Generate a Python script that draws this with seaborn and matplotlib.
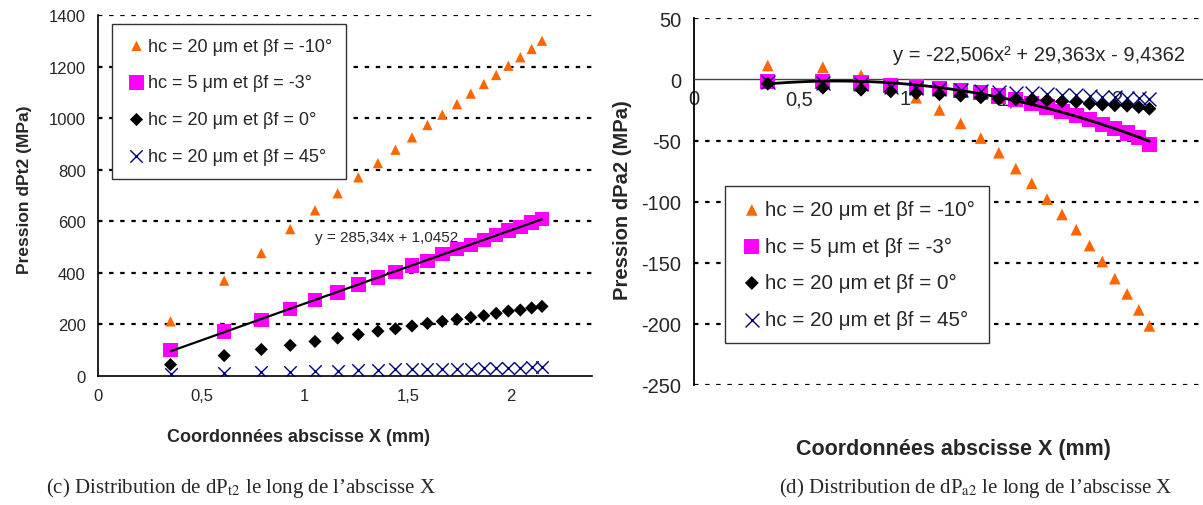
import numpy as np
import pandas as pd
import matplotlib
matplotlib.use('Agg')
import matplotlib.pyplot as plt
import seaborn as sns

# abscisses X (mm)
x_mm = [0.35, 0.61, 0.79, 0.93, 1.05, 1.16, 1.26, 1.355, 1.44, 1.52,
        1.595, 1.667, 1.738, 1.805, 1.868, 1.928, 1.987, 2.045, 2.10, 2.15]

series_labels = ['hc = 20 μm et βf = -10°', 'hc = 5 μm et βf = -3°',
                 'hc = 20 μm et βf = 0°', 'hc = 20 μm et βf = 45°']

# (c) dPt2
dpt2_m10 = [211, 369, 476, 569, 642, 708, 770, 825, 877, 925,
            973, 1013, 1054, 1095, 1132, 1167, 1203, 1236, 1268, 1300]
dpt2_m3 = [100, 171, 216, 259, 294, 323, 353, 382, 402, 427,
           446, 472, 492, 508, 527, 546, 563, 578, 595, 608]
dpt2_0 = [43, 78, 102, 118, 133, 146, 160, 173, 182, 193,
          203, 211, 219, 226, 233, 242, 251, 255, 263, 269]
dpt2_45 = [6, 10, 13, 16, 17, 19, 22, 23, 25, 25,
           26, 27, 28, 28, 30, 30, 31, 31, 32, 32]

# (d) dPa2
dpa2_m10 = [11.4, 10.0, 3.3, -3.0, -15.0, -25.0, -36.0, -48.0, -60.0, -73.0,
            -85.0, -98.0, -110.5, -123.0, -136.0, -149.0, -163.0, -175.5, -188.6, -201.7]
dpa2_m3 = [-1.6, -1.6, -3.0, -4.9, -6.3, -7.6, -9.0, -10.9, -13.6, -16.6,
           -19.9, -22.6, -26.1, -29.4, -32.9, -36.7, -40.3, -43.8, -47.6, -53.0]
dpa2_0 = [-3.5, -6.8, -8.4, -9.8, -11.2, -12.2, -13.3, -14.7, -16.1, -16.3,
          -16.6, -17.1, -18.0, -18.5, -19.9, -20.7, -21.2, -21.5, -22.6, -24.0]
dpa2_45 = [-2, -3, -4, -6, -7, -8, -8.5, -9.5, -10.5, -11,
           -11.5, -12, -12.5, -13, -13.5, -14, -14.5, -15, -15.5, -16]

x_ticks = [0, 0.5, 1, 1.5, 2]
x_tick_labels = ['0', '0,5', '1', '1,5', '2']
yc_ticks = [0, 200, 400, 600, 800, 1000, 1200, 1400]
yd_ticks = [50, 0, -50, -100, -150, -200, -250]

colors = ['#FF6600', '#FF00FF', 'black', '#000080']
markers = ['^', 's', 'D', 'x']

sns.set_style('white')
plt.rcParams['font.family'] = ['Liberation Sans', 'DejaVu Sans']
plt.rcParams['mathtext.fontset'] = 'stix'
plt.rcParams['axes.unicode_minus'] = False

fig = plt.figure(figsize=(12.03, 5.06), dpi=100)
ax1 = fig.add_axes([0.0817, 0.2555, 0.4100, 0.7129])
ax2 = fig.add_axes([0.5765, 0.2372, 0.4230, 0.7247])


def draw_points(ax, data, sizes):
    for vals, lab, col, mk, s in zip(data, series_labels, colors, markers, sizes):
        if mk == 'x':
            sns.scatterplot(x=x_mm, y=vals, marker=mk, s=s, color=col,
                            linewidth=1.0, ax=ax, label=lab, zorder=4)
        else:
            sns.scatterplot(x=x_mm, y=vals, marker=mk, s=s, color=col,
                            edgecolor='none', ax=ax, label=lab,
                            zorder=5 if mk == 'D' else 3)


def dotted_grid(ax, levels):
    for v in levels:
        ax.axhline(v, color='black', lw=1.6, ls=(0, (2, 3)), zorder=1)


# ---- (c) ----
ax = ax1
dotted_grid(ax, [200, 400, 600, 800, 1000, 1200, 1400])
draw_points(ax, [dpt2_m10, dpt2_m3, dpt2_0, dpt2_45], [55, 110, 45, 80])
sns.regplot(x=x_mm, y=dpt2_m3, scatter=False, ci=None, truncate=True,
            color='black', line_kws={'lw': 1.6, 'zorder': 4}, ax=ax)
ax.set_xlim(0, 2.39)
ax.set_ylim(0, 1400)
ax.set_xticks(x_ticks)
ax.set_xticklabels(x_tick_labels)
ax.set_yticks(yc_ticks)
ax.tick_params(axis='both', direction='out', length=4, width=1,
               labelsize=12, color='black', pad=5)
for sp in ['top', 'right']:
    ax.spines[sp].set_visible(False)
for sp in ['left', 'bottom']:
    ax.spines[sp].set_color('black')
    ax.spines[sp].set_linewidth(1.2)
ax.text(1.05, 538, 'y = 285,34x + 1,0452', fontsize=11, va='center')
ax.set_xlabel('Coordonnées abscisse X (mm)', fontsize=13, fontweight='bold')
ax.set_ylabel('Pression dPt2 (MPa)', fontsize=12.5, fontweight='bold')
ax.xaxis.set_label_coords(0.406, -0.145)
ax.yaxis.set_label_coords(-0.135, 0.518)
ax.legend(loc='upper left', bbox_to_anchor=(0.028, 0.975), fontsize=13,
          frameon=True, fancybox=False, edgecolor='#333333', framealpha=1,
          labelspacing=1.1, handletextpad=0.05, handlelength=1.2,
          borderpad=0.75, borderaxespad=0)

# ---- (d) ----
ax = ax2
dotted_grid(ax, [50, -50, -100, -150, -200, -250])
draw_points(ax, [dpa2_m10, dpa2_m3, dpa2_0, dpa2_45], [70, 120, 50, 100])
sns.regplot(x=x_mm, y=dpa2_m3, order=2, scatter=False, ci=None, truncate=True,
            color='black', line_kws={'lw': 2.0, 'zorder': 4}, ax=ax)
ax.set_xlim(0, 2.40)
ax.set_ylim(-250, 50)
ax.set_xticks(x_ticks)
ax.set_xticklabels(x_tick_labels)
ax.set_yticks(yd_ticks)
ax.spines['bottom'].set_position(('data', 0))
ax.spines['bottom'].set_color('#444444')
ax.spines['bottom'].set_linewidth(1.0)
ax.spines['left'].set_color('black')
ax.spines['left'].set_linewidth(1.3)
for sp in ['top', 'right']:
    ax.spines[sp].set_visible(False)
ax.tick_params(axis='y', direction='out', length=4, width=1,
               labelsize=14.5, color='black', pad=5)
ax.tick_params(axis='x', direction='in', length=4, width=1,
               labelsize=14.5, color='#444444', pad=7)
ax.text(0.94, 20.4, 'y = -22,506x² + 29,363x - 9,4362', fontsize=14.5, va='center')
ax.set_xlabel('Coordonnées abscisse X (mm)', fontsize=15.5, fontweight='bold')
ax.set_ylabel('Pression dPa2 (MPa)', fontsize=14.5, fontweight='bold')
ax.xaxis.set_label_coords(0.51, -0.145)
ax.yaxis.set_label_coords(-0.121, 0.507)
ax.legend(loc='upper left', bbox_to_anchor=(0.062, 0.543), fontsize=14.8,
          frameon=True, fancybox=False, edgecolor='#333333', framealpha=1,
          labelspacing=0.85, handletextpad=0.05, handlelength=1.2,
          borderpad=0.7, borderaxespad=0)

# legendes sous les figures
fig.text(241 / 1203, 1 - 488 / 506, "(c) Distribution de dP$_{\\mathrm{t2}}$ le long de l’abscisse X",
         family='Liberation Serif', fontsize=15, ha='center', va='center')
fig.text(976 / 1203, 1 - 488 / 506, "(d) Distribution de dP$_{\\mathrm{a2}}$ le long de l’abscisse X",
         family='Liberation Serif', fontsize=15, ha='center', va='center')

fig.savefig('out.png', dpi=100)
